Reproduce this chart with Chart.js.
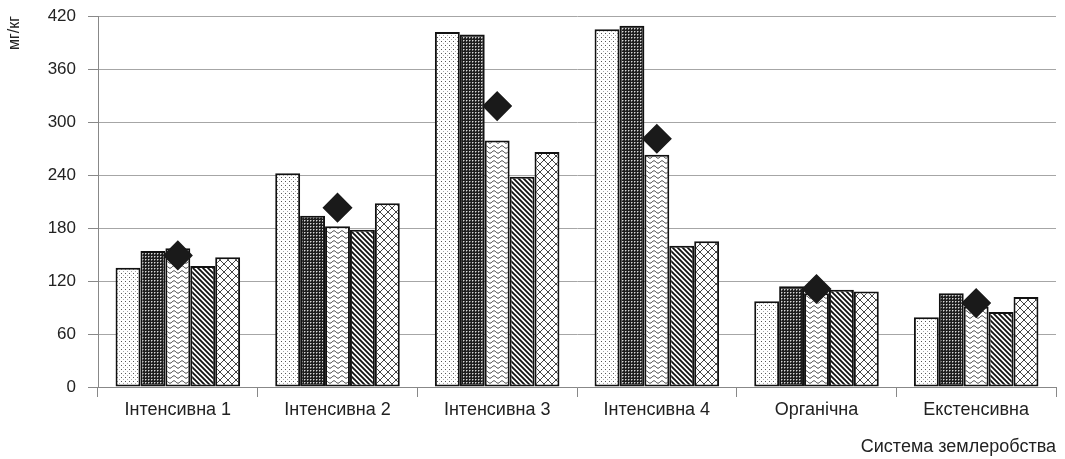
<!DOCTYPE html>
<html>
<head>
<meta charset="utf-8">
<script src="https://cdn.jsdelivr.net/npm/chart.js@4.4.1/dist/chart.umd.min.js"></script>
<style>
  html, body { margin: 0; padding: 0; background: #ffffff; }
  #wrap { width: 1065px; height: 459px; position: relative; }
</style>
</head>
<body>
<div id="wrap"><canvas id="c" width="1065" height="459"></canvas></div>
<script>
// Farming systems (categories)
const categories = ['Інтенсивна 1', 'Інтенсивна 2', 'Інтенсивна 3', 'Інтенсивна 4', 'Органічна', 'Екстенсивна'];

// Five measured series, mg/kg
const series1 = [135, 242, 402, 405, 97, 79];
const series2 = [154, 194, 399, 409, 114, 106];
const series3 = [157, 182, 279, 263, 106, 91];
const series4 = [137, 178, 238, 160, 110, 85];
const series5 = [147, 208, 266, 165, 108, 102];

// Mean value per system (diamond markers)
const meanValues = [149, 203, 318, 281, 111, 95];

// Axis settings
const yTicks = [0, 60, 120, 180, 240, 300, 360, 420];
const yTitle = 'мг/кг';
const xTitle = 'Система землеробства';

const FONT = "'Liberation Sans', Arial, sans-serif";

// ---- monochrome fill patterns ----
function makeTile(w, h, draw) {
  const cv = document.createElement('canvas');
  cv.width = w; cv.height = h;
  const g = cv.getContext('2d');
  draw(g, w, h);
  return document.getElementById('c').getContext('2d').createPattern(cv, 'repeat');
}

// sparse dots
const patDots = makeTile(4, 4, (g, w, h) => {
  g.fillStyle = '#fff'; g.fillRect(0, 0, w, h);
  g.fillStyle = '#555'; g.fillRect(1, 1, 1, 1);
  g.fillStyle = '#aaa'; g.fillRect(3, 3, 1, 1);
});
// dense dark grid
const patDense = makeTile(3, 3, (g, w, h) => {
  g.fillStyle = '#1e1e1e'; g.fillRect(0, 0, w, h);
  g.fillStyle = '#d8d8d8'; g.fillRect(1, 1, 1, 1);
  g.fillStyle = '#777'; g.fillRect(2, 1, 1, 1); g.fillRect(1, 2, 1, 1);
});
// wavy horizontal lines
const patWave = makeTile(8, 5, (g, w, h) => {
  g.fillStyle = '#fff'; g.fillRect(0, 0, w, h);
  g.strokeStyle = '#333'; g.lineWidth = 1;
  g.beginPath();
  for (let x = 0; x <= w; x += 0.5) {
    const y = 2 + Math.sin((x / w) * Math.PI * 2) * 1.2;
    if (x === 0) g.moveTo(x, y); else g.lineTo(x, y);
  }
  g.stroke();
});
// downward diagonal stripes
const patDiag = makeTile(5, 5, (g, w, h) => {
  g.fillStyle = '#fff'; g.fillRect(0, 0, w, h);
  g.strokeStyle = '#111'; g.lineWidth = 1.8;
  g.beginPath();
  g.moveTo(-1, -1); g.lineTo(w + 1, h + 1);
  g.moveTo(-1, h - 1); g.lineTo(1, h + 1);
  g.moveTo(w - 1, -1); g.lineTo(w + 1, 1);
  g.stroke();
});
// open diagonal crosshatch
const patCross = makeTile(8, 8, (g, w, h) => {
  g.fillStyle = '#fff'; g.fillRect(0, 0, w, h);
  g.strokeStyle = '#444'; g.lineWidth = 1;
  g.beginPath();
  g.moveTo(0, 0); g.lineTo(w, h);
  g.moveTo(w, 0); g.lineTo(0, h);
  g.stroke();
});

function barSet(label, data, fill) {
  return {
    type: 'bar', label, data,
    backgroundColor: fill,
    borderColor: '#111',
    borderWidth: 2,
    borderSkipped: false,
    barPercentage: 1.0,
    categoryPercentage: 0.78,
    order: 2
  };
}

new Chart(document.getElementById('c'), {
  data: {
    labels: categories,
    datasets: [
      {
        type: 'line', label: 'mean', data: meanValues,
        showLine: false,
        pointStyle: 'rectRot',
        pointRadius: 14,
        pointHoverRadius: 14,
        pointBackgroundColor: '#1a1a1a',
        pointBorderColor: '#1a1a1a',
        pointBorderWidth: 1.5,
        order: 0
      },
      barSet('s1', series1, patDots),
      barSet('s2', series2, patDense),
      barSet('s3', series3, patWave),
      barSet('s4', series4, patDiag),
      barSet('s5', series5, patCross)
    ]
  },
  options: {
    responsive: false,
    animation: false,
    layout: { autoPadding: false, padding: { left: 0, right: 9, top: 16, bottom: 0 } },
    plugins: { legend: { display: false }, tooltip: { enabled: false } },
    scales: {
      x: {
        type: 'category',
        offset: true,
        grid: {
          display: true,
          offset: true,
          drawOnChartArea: false,
          drawTicks: true,
          tickLength: 10,
          tickColor: '#888',
          tickWidth: 1
        },
        border: { display: true, color: '#888', width: 1 },
        ticks: { color: '#222', font: { family: FONT, size: 18 }, padding: 2, maxRotation: 0, autoSkip: false },
        title: {
          display: true, text: xTitle, align: 'end',
          color: '#222', font: { family: FONT, size: 18 },
          padding: { top: 10, bottom: 1 }
        },
        afterFit: (s) => { s.height = 72; s.paddingLeft = 0; s.paddingRight = 0; }
      },
      y: {
        min: 0, max: 420,
        afterBuildTicks: (s) => { s.ticks = yTicks.map(v => ({ value: v })); },
        grid: { color: '#a6a6a6', lineWidth: 1, tickLength: 10, tickColor: '#888' },
        border: { display: true, color: '#888', width: 1 },
        ticks: { color: '#222', font: { family: FONT, size: 17 }, padding: 12 },
        title: {
          display: true, text: yTitle, align: 'end',
          color: '#222', font: { family: FONT, size: 16 },
          padding: { top: 5, bottom: 4 }
        },
        afterFit: (s) => { s.width = 98; s.paddingTop = 0; s.paddingBottom = 0; }
      }
    }
  }
});
</script>
</body>
</html>
